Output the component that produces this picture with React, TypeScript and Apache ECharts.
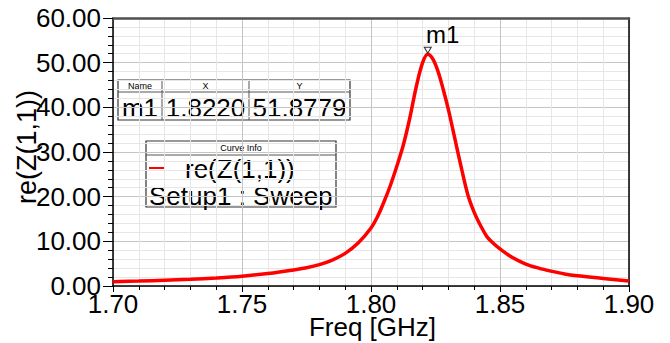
import React, { useEffect, useRef } from "react";
import * as echarts from "echarts";

const FREQ = [1.700, 1.710, 1.720, 1.730, 1.740, 1.750, 1.760, 1.770, 1.775, 1.780, 1.785, 1.790, 1.795, 1.800, 1.8025, 1.805, 1.8075, 1.810, 1.8125, 1.815, 1.8175, 1.820, 1.822, 1.824, 1.826, 1.828, 1.830, 1.8325, 1.835, 1.8375, 1.840, 1.8425, 1.845, 1.8475, 1.850, 1.855, 1.860, 1.865, 1.870, 1.875, 1.880, 1.890, 1.900];
const REZ = [0.95, 1.1, 1.3, 1.5, 1.8, 2.2, 2.8, 3.6, 4.1, 4.8, 5.8, 7.3, 9.6, 13.0, 15.5, 18.8, 22.5, 26.8, 31.5, 37.5, 44.5, 50.0, 51.88, 50.8, 48.0, 44.0, 39.5, 33.0, 26.5, 20.5, 16.5, 13.5, 11.0, 9.5, 8.3, 6.3, 4.9, 4.0, 3.3, 2.7, 2.3, 1.7, 1.1];

const X_MIN = 1.7;
const X_MAX = 1.9;
const X_INTERVAL = 0.05;
const Y_MIN = 0;
const Y_MAX = 60;
const Y_INTERVAL = 10;

const MARKER_NAME = "m1";
const MARKER_X = 1.822;
const MARKER_Y = 51.8779;

const X_TITLE = "Freq [GHz]";
const Y_TITLE = "re(Z(1,1))";
const CURVE_NAME = "re(Z(1,1))";
const CURVE_SETUP = "Setup1 : Sweep";

const FONT = "'Liberation Sans', Arial, sans-serif";

export default function App() {
  const ref = useRef<HTMLDivElement>(null);
  useEffect(() => {
    if (!ref.current) return;
    const chart = echarts.init(ref.current, null, { renderer: "svg" });
    const data = FREQ.map((f, i) => [f, REZ[i]]);
    const big = { fontFamily: FONT, fontSize: 26, lineHeight: 24, fill: "#000" };
    const small = { fontFamily: FONT, fontSize: 9, fill: "#000" };
    chart.setOption({
      animation: false,
      backgroundColor: "#fff",
      grid: { left: 113, right: 41, top: 18, bottom: 57, outerBoundsMode: "none", containLabel: false },
      xAxis: [
        {
          type: "value",
          min: X_MIN,
          max: X_MAX,
          interval: X_INTERVAL,
          axisLine: { show: true, onZero: false, lineStyle: { color: "#000", width: 1.5 } },
          axisTick: { show: true, length: 6, lineStyle: { color: "#000" } },
          minorTick: { show: true, splitNumber: 5, length: 4, lineStyle: { color: "#000" } },
          axisLabel: {
            formatter: (v: number) => v.toFixed(2),
            fontFamily: FONT,
            fontSize: 26,
            color: "#000",
            margin: 5,
          },
          splitLine: { show: true, lineStyle: { color: "#c4c4c4", width: 1 } },
          minorSplitLine: { show: true, lineStyle: { color: "#e6e6e6", width: 1 } },
        },
        {
          type: "value",
          position: "top",
          min: X_MIN,
          max: X_MAX,
          interval: X_INTERVAL,
          axisLine: { show: true, onZero: false, lineStyle: { color: "#505050", width: 2.5 } },
          axisTick: { show: false },
          axisLabel: { show: false },
          splitLine: { show: false },
        },
      ],
      yAxis: [
        {
          type: "value",
          min: Y_MIN,
          max: Y_MAX,
          interval: Y_INTERVAL,
          axisLine: { show: true, onZero: false, lineStyle: { color: "#000", width: 1.5 } },
          axisTick: { show: true, length: 10, lineStyle: { color: "#000" } },
          minorTick: { show: true, splitNumber: 5, length: 5, lineStyle: { color: "#000" } },
          axisLabel: {
            formatter: (v: number) => v.toFixed(2),
            fontFamily: FONT,
            fontSize: 26,
            color: "#000",
            margin: 12,
          },
          splitLine: { show: true, lineStyle: { color: "#c4c4c4", width: 1 } },
          minorSplitLine: { show: true, lineStyle: { color: "#e6e6e6", width: 1 } },
        },
        {
          type: "value",
          position: "right",
          min: Y_MIN,
          max: Y_MAX,
          interval: Y_INTERVAL,
          axisLine: { show: true, onZero: false, lineStyle: { color: "#000", width: 1.5 } },
          axisTick: { show: false },
          axisLabel: { show: false },
          splitLine: { show: false },
        },
      ],
      series: [
        {
          type: "line",
          data,
          showSymbol: false,
          smooth: 0.35,
          lineStyle: { color: "#ff0000", width: 3.5 },
          markPoint: {
            symbol: "triangle",
            symbolRotate: 180,
            symbolSize: [7, 6],
            symbolOffset: [0, -4],
            itemStyle: { color: "#fff", borderColor: "#333", borderWidth: 1 },
            label: {
              show: true,
              position: "top",
              distance: 0,
              offset: [15, 0],
              formatter: MARKER_NAME,
              fontFamily: FONT,
              fontSize: 24,
              color: "#000",
            },
            data: [{ coord: [MARKER_X, MARKER_Y] }],
          },
        },
      ],
      graphic: [
        {
          type: "text",
          x: 27,
          y: 147,
          rotation: Math.PI / 2,
          style: { text: Y_TITLE, fontFamily: FONT, fontSize: 27, fill: "#000", align: "center", verticalAlign: "middle" },
          z: 10,
        },
        {
          type: "text",
          x: 372.5,
          y: 327,
          style: { text: X_TITLE, fontFamily: FONT, fontSize: 26, lineHeight: 18, fill: "#000", align: "center", verticalAlign: "middle" },
          z: 10,
        },
        {
          type: "group",
          z: 20,
          children: [
            { type: "rect", shape: { x: 118, y: 80, width: 232, height: 40 }, style: { fill: "#fff", stroke: "#333", lineWidth: 1.2 } },
            { type: "line", shape: { x1: 118, y1: 92, x2: 350, y2: 92 }, style: { stroke: "#555", lineWidth: 1 } },
            { type: "line", shape: { x1: 162, y1: 80, x2: 162, y2: 120 }, style: { stroke: "#555", lineWidth: 1 } },
            { type: "line", shape: { x1: 249, y1: 80, x2: 249, y2: 120 }, style: { stroke: "#555", lineWidth: 1 } },
            { type: "text", x: 140, y: 86, style: { ...small, text: "Name", align: "center", verticalAlign: "middle" } },
            { type: "text", x: 205.5, y: 86, style: { ...small, text: "X", align: "center", verticalAlign: "middle" } },
            { type: "text", x: 299.5, y: 86, style: { ...small, text: "Y", align: "center", verticalAlign: "middle" } },
            { type: "text", x: 140, y: 108, style: { ...big, text: MARKER_NAME, align: "center", verticalAlign: "middle" } },
            { type: "text", x: 205.5, y: 108, style: { ...big, text: MARKER_X.toFixed(4), align: "center", verticalAlign: "middle" } },
            { type: "text", x: 299.5, y: 108, style: { ...big, text: MARKER_Y.toFixed(4), align: "center", verticalAlign: "middle" } },
          ],
        },
        {
          type: "group",
          z: 20,
          children: [
            { type: "rect", shape: { x: 146, y: 141, width: 190, height: 66 }, style: { fill: "#fff", stroke: "#333", lineWidth: 1.2 } },
            { type: "line", shape: { x1: 146, y1: 155, x2: 336, y2: 155 }, style: { stroke: "#555", lineWidth: 1 } },
            { type: "text", x: 241, y: 148, style: { ...small, text: "Curve Info", align: "center", verticalAlign: "middle" } },
            { type: "line", shape: { x1: 149, y1: 168, x2: 165, y2: 168 }, style: { stroke: "#ff0000", lineWidth: 2 } },
            { type: "text", x: 185, y: 168.5, style: { ...big, text: CURVE_NAME, align: "left", verticalAlign: "middle" } },
            { type: "text", x: 149, y: 195.5, style: { ...big, text: CURVE_SETUP, align: "left", verticalAlign: "middle" } },
          ],
        },
      ],
    });
    return () => chart.dispose();
  }, []);
  return (
    <div
      ref={ref}
      style={{ position: "fixed", left: 0, top: 0, width: 670, height: 343, background: "#fff" }}
    />
  );
}
